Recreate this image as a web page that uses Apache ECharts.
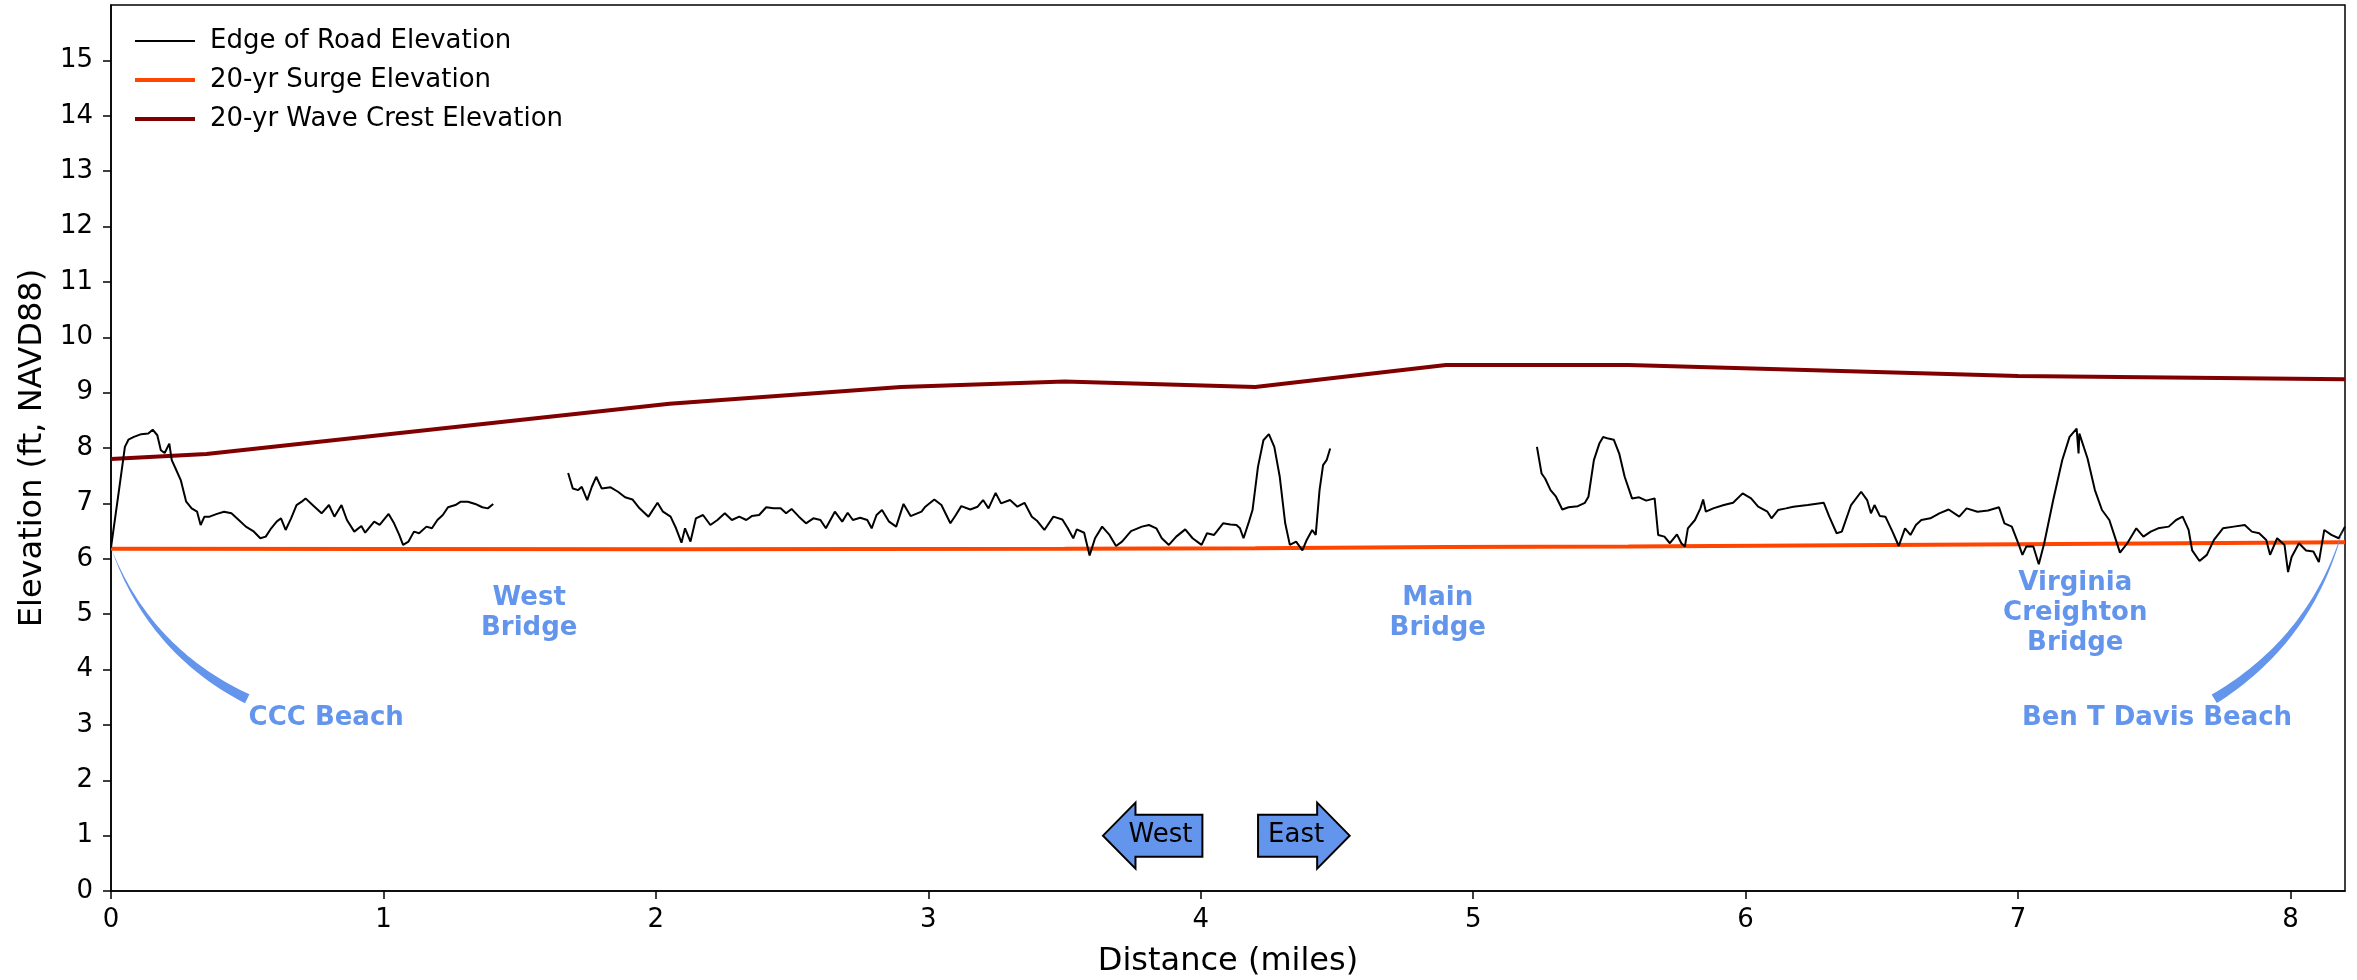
<!DOCTYPE html>
<html lang="en">
<head>
<meta charset="utf-8" />
<title>Edge of Road Elevation</title>
<script src="https://cdn.jsdelivr.net/npm/echarts@6/dist/echarts.min.js"></script>
<style>
  html, body { margin: 0; padding: 0; background: #fff; }
  #profile { width: 2357px; height: 980px; }
</style>
</head>
<body>
<div id="profile"></div>
<script>
// tick labels
const xTicks = [0, 1, 2, 3, 4, 5, 6, 7, 8];
const yTicks = [0, 1, 2, 3, 4, 5, 6, 7, 8, 9, 10, 11, 12, 13, 14, 15];

// edge of road elevation (null = no data, bridge gap)
const roadMiles = [
  0, 0.031, 0.051, 0.064, 0.084, 0.111, 0.137, 0.153, 0.170, 0.183, 0.197, 0.214, 0.223, 0.237, 0.256, 0.276,
  0.296, 0.316, 0.329, 0.343, 0.362, 0.389, 0.415, 0.442, 0.469, 0.495, 0.522, 0.548, 0.568, 0.588, 0.608, 0.624,
  0.641, 0.661, 0.681, 0.700, 0.714, 0.740, 0.773, 0.800, 0.820, 0.846, 0.866, 0.893, 0.919, 0.933, 0.966, 0.986,
  1.019, 1.039, 1.058, 1.072, 1.092, 1.112, 1.131, 1.158, 1.178, 1.198, 1.218, 1.237, 1.264, 1.284, 1.310, 1.337,
  1.363, 1.383, 1.403,
  1.54,
  1.678, 1.695, 1.715, 1.728, 1.748, 1.765, 1.781, 1.801, 1.834, 1.861, 1.887, 1.914, 1.940, 1.973, 2.006, 2.026,
  2.054, 2.074, 2.094, 2.107, 2.127, 2.147, 2.173, 2.200, 2.226, 2.253, 2.279, 2.306, 2.332, 2.352, 2.379, 2.405,
  2.432, 2.458, 2.478, 2.498, 2.525, 2.551, 2.578, 2.604, 2.624, 2.657, 2.684, 2.704, 2.723, 2.750, 2.776, 2.792,
  2.810, 2.830, 2.856, 2.882, 2.909, 2.935, 2.975, 2.989, 3.022, 3.048, 3.081, 3.101, 3.121, 3.154, 3.181, 3.201,
  3.221, 3.247, 3.267, 3.300, 3.327, 3.353, 3.380, 3.400, 3.426, 3.459, 3.492, 3.512, 3.532, 3.545, 3.572, 3.592,
  3.612, 3.638, 3.665, 3.689, 3.711, 3.744, 3.784, 3.810, 3.837, 3.857, 3.883, 3.910, 3.943, 3.970, 4.003, 4.023,
  4.049, 4.082, 4.109, 4.131, 4.144, 4.157, 4.177, 4.190, 4.210, 4.230, 4.250, 4.270, 4.290, 4.310, 4.327, 4.350,
  4.373, 4.389, 4.409, 4.422, 4.436, 4.449, 4.462, 4.475,
  4.85,
  5.234, 5.251, 5.264, 5.284, 5.304, 5.327, 5.350, 5.384, 5.410, 5.423, 5.443, 5.463, 5.477, 5.496, 5.516, 5.536,
  5.556, 5.583, 5.609, 5.635, 5.666, 5.679, 5.702, 5.722, 5.748, 5.764, 5.777, 5.788, 5.814, 5.834, 5.844, 5.854,
  5.881, 5.920, 5.954, 5.989, 6.020, 6.046, 6.080, 6.095, 6.119, 6.148, 6.175, 6.228, 6.287, 6.307, 6.334, 6.353,
  6.387, 6.424, 6.446, 6.460, 6.473, 6.493, 6.513, 6.539, 6.562, 6.585, 6.605, 6.625, 6.645, 6.678, 6.711, 6.745,
  6.784, 6.811, 6.851, 6.890, 6.930, 6.950, 6.977, 7.003, 7.016, 7.030, 7.056, 7.076, 7.096, 7.129, 7.162, 7.189,
  7.215, 7.222, 7.225, 7.255, 7.282, 7.308, 7.335, 7.355, 7.374, 7.401, 7.434, 7.460, 7.487, 7.514, 7.553, 7.580,
  7.604, 7.626, 7.639, 7.666, 7.693, 7.719, 7.752, 7.792, 7.832, 7.858, 7.885, 7.911, 7.925, 7.951, 7.978, 7.991,
  8.004, 8.031, 8.057, 8.084, 8.104, 8.124, 8.150, 8.177, 8.200
];
const roadElev = [
  6.20, 7.30, 8.02, 8.15, 8.20, 8.25, 8.26, 8.33, 8.23, 7.96, 7.91, 8.08, 7.78, 7.63, 7.42, 7.03,
  6.91, 6.85, 6.61, 6.76, 6.76, 6.81, 6.85, 6.82, 6.70, 6.58, 6.50, 6.37, 6.40, 6.55, 6.67, 6.73,
  6.52, 6.73, 6.97, 7.03, 7.09, 6.97, 6.82, 6.97, 6.76, 6.97, 6.70, 6.49, 6.59, 6.47, 6.67, 6.61,
  6.81, 6.64, 6.43, 6.25, 6.31, 6.49, 6.46, 6.58, 6.55, 6.70, 6.79, 6.93, 6.97, 7.03, 7.03, 6.99,
  6.93, 6.91, 6.99,
  null,
  7.55, 7.27, 7.24, 7.30, 7.06, 7.30, 7.48, 7.27, 7.29, 7.21, 7.11, 7.07, 6.91, 6.76, 7.01, 6.85,
  6.76, 6.55, 6.29, 6.55, 6.31, 6.73, 6.79, 6.61, 6.70, 6.82, 6.70, 6.76, 6.70, 6.77, 6.79, 6.93,
  6.91, 6.91, 6.82, 6.90, 6.76, 6.64, 6.73, 6.70, 6.55, 6.85, 6.67, 6.83, 6.70, 6.74, 6.70, 6.55,
  6.79, 6.88, 6.67, 6.58, 6.99, 6.77, 6.85, 6.94, 7.07, 6.97, 6.64, 6.79, 6.95, 6.89, 6.94, 7.06,
  6.91, 7.19, 7.00, 7.06, 6.94, 7.01, 6.76, 6.68, 6.52, 6.76, 6.71, 6.55, 6.37, 6.53, 6.47, 6.06,
  6.37, 6.58, 6.43, 6.23, 6.31, 6.50, 6.58, 6.61, 6.55, 6.37, 6.25, 6.40, 6.53, 6.37, 6.25, 6.46,
  6.43, 6.64, 6.62, 6.61, 6.55, 6.37, 6.67, 6.88, 7.66, 8.14, 8.25, 8.02, 7.48, 6.64, 6.25, 6.31,
  6.15, 6.34, 6.52, 6.43, 7.24, 7.69, 7.78, 7.99,
  null,
  8.02, 7.54, 7.45, 7.24, 7.12, 6.89, 6.93, 6.95, 7.01, 7.12, 7.78, 8.08, 8.20, 8.17, 8.15, 7.90,
  7.48, 7.09, 7.11, 7.05, 7.09, 6.43, 6.40, 6.28, 6.44, 6.28, 6.22, 6.55, 6.70, 6.91, 7.07, 6.85,
  6.91, 6.97, 7.01, 7.18, 7.09, 6.94, 6.85, 6.73, 6.88, 6.91, 6.94, 6.97, 7.01, 6.76, 6.46, 6.49,
  6.97, 7.21, 7.06, 6.82, 6.97, 6.77, 6.76, 6.49, 6.23, 6.55, 6.43, 6.61, 6.70, 6.73, 6.82, 6.89,
  6.76, 6.91, 6.85, 6.87, 6.93, 6.64, 6.58, 6.25, 6.07, 6.22, 6.22, 5.90, 6.28, 7.06, 7.78, 8.20,
  8.35, 7.90, 8.26, 7.81, 7.24, 6.88, 6.70, 6.40, 6.11, 6.28, 6.55, 6.40, 6.49, 6.55, 6.58, 6.70,
  6.76, 6.52, 6.15, 5.96, 6.07, 6.34, 6.55, 6.58, 6.61, 6.49, 6.46, 6.34, 6.07, 6.37, 6.25, 5.76,
  6.03, 6.28, 6.15, 6.13, 5.94, 6.52, 6.43, 6.37, 6.58
];

// 20-yr surge and wave crest elevations
const surgeMiles = [0, 2.05, 3.5, 4.2, 4.9, 5.57, 7.0, 8.2];
const surgeElev = [6.18, 6.17, 6.18, 6.19, 6.21, 6.22, 6.26, 6.30];
const waveMiles = [0, 0.35, 2.05, 2.9, 3.5, 4.2, 4.9, 5.57, 7.0, 8.2];
const waveElev = [7.80, 7.89, 8.80, 9.10, 9.20, 9.10, 9.50, 9.50, 9.30, 9.24];

// place names
const placeNames = ['CCC Beach', 'West\nBridge', 'Main\nBridge', 'Virginia\nCreighton\nBridge', 'Ben T Davis Beach'];
const placeMiles = [0.79, 1.535, 4.87, 7.21, 7.51];
const placeElev = [3.12, 5.02, 5.02, 5.02, 3.12];

// curved pointers from beach labels to road ends
const pointerFrom = [[0.50, 3.47], [7.72, 3.47]];
const pointerTo = [[0, 6.20], [8.195, 6.59]];
const pointerBend = [0.2, -0.2];

// direction arrows
const dirNames = ['West', 'East'];
const dirMiles = [3.852, 4.35];
const dirElev = [1.0, 1.0];
const dirSide = [-1, 1];

const FONT = '"DejaVu Sans", sans-serif';
const BLUE = '#6495ED';

const pairs = function(xs, ys) {
  return xs.map(function(x, i) { return [x, ys[i] === null ? '-' : ys[i]]; });
};

// text width helper for the arrow boxes
const measureCtx = document.createElement('canvas').getContext('2d');
const textWidth = function(txt, font) {
  measureCtx.font = font;
  return measureCtx.measureText(txt).width;
};

// wedge shaped curved pointer (wide at label, thin at road)
const pointerItem = function(params, api) {
  const s = api.coord([api.value(0), api.value(1)]);
  const e = api.coord([api.value(2), api.value(3)]);
  const rad = api.value(4);
  const dx = e[0] - s[0], dy = e[1] - s[1];
  const c = [(s[0] + e[0]) / 2 + rad * dy, (s[1] + e[1]) / 2 - rad * dx];
  const n = 40, tail = 10;
  const left = [], right = [];
  for (let i = 0; i <= n; i++) {
    const t = i / n, u = 1 - t;
    const x = u * u * s[0] + 2 * u * t * c[0] + t * t * e[0];
    const y = u * u * s[1] + 2 * u * t * c[1] + t * t * e[1];
    const tx = 2 * u * (c[0] - s[0]) + 2 * t * (e[0] - c[0]);
    const ty = 2 * u * (c[1] - s[1]) + 2 * t * (e[1] - c[1]);
    const len = Math.hypot(tx, ty) || 1;
    const w = tail * u / 2;
    left.push([x - ty / len * w, y + tx / len * w]);
    right.push([x + ty / len * w, y - tx / len * w]);
  }
  return {
    type: 'polygon',
    shape: { points: left.concat(right.reverse()) },
    style: { fill: BLUE }
  };
};

const placeItem = function(params, api) {
  const p = api.coord([api.value(0), api.value(1)]);
  return {
    type: 'text',
    x: p[0],
    y: p[1],
    style: {
      text: placeNames[params.dataIndex],
      fill: BLUE,
      font: 'bold 26px ' + FONT,
      align: 'center',
      verticalAlign: 'middle',
      lineHeight: 30
    }
  };
};

// arrow shaped box around West / East
const dirItem = function(params, api) {
  const p = api.coord([api.value(0), api.value(1)]);
  const label = dirNames[params.dataIndex];
  const side = dirSide[params.dataIndex];
  const font = '26px ' + FONT;
  const hw = textWidth(label, font) / 2;
  const bodyH = 21, headH = 33;
  const pts = [
    [-(hw + 10), -bodyH], [hw - 7, -bodyH], [hw - 7, -headH], [hw + 25.5, 0],
    [hw - 7, headH], [hw - 7, bodyH], [-(hw + 10), bodyH]
  ].map(function(q) { return [p[0] + side * q[0], p[1] + q[1]]; });
  return {
    type: 'group',
    children: [{
      type: 'polygon',
      shape: { points: pts },
      style: { fill: BLUE, stroke: '#000', lineWidth: 2 }
    }, {
      type: 'text',
      x: p[0],
      y: p[1],
      style: { text: label, fill: '#000', font: font, align: 'center', verticalAlign: 'middle' }
    }]
  };
};

const chart = echarts.init(document.getElementById('profile'));

chart.setOption({
  animation: false,
  backgroundColor: '#fff',
  grid: {
    left: 111, right: 12, top: 5, bottom: 89,
    show: true, borderColor: '#000', borderWidth: 1.5,
    outerBoundsMode: 'none'
  },
  legend: {
    data: ['Edge of Road Elevation', '20-yr Surge Elevation', '20-yr Wave Crest Elevation'],
    orient: 'vertical',
    left: 128,
    top: 21,
    itemWidth: 60,
    itemHeight: 14,
    itemGap: 9,
    itemStyle: { opacity: 0, color: 'rgba(0,0,0,0)', borderWidth: 0 },
    lineStyle: { width: 'inherit' },
    textStyle: { fontFamily: FONT, fontSize: 26, color: '#000', lineHeight: 30, padding: [0, 0, 0, 10] }
  },
  xAxis: {
    type: 'value',
    min: 0,
    max: 8.2,
    name: 'Distance (miles)',
    nameLocation: 'middle',
    nameGap: 55,
    nameTextStyle: { fontFamily: FONT, fontSize: 32, color: '#000' },
    axisLine: { lineStyle: { color: '#000', width: 1.5 } },
    axisTick: { show: true, inside: false, length: 8, customValues: xTicks, lineStyle: { color: '#000', width: 1.5 } },
    axisLabel: { customValues: xTicks, margin: 16, fontFamily: FONT, fontSize: 26, color: '#000' },
    splitLine: { show: false }
  },
  yAxis: {
    type: 'value',
    min: 0,
    max: 16,
    name: 'Elevation (ft, NAVD88)',
    nameLocation: 'middle',
    nameGap: 62,
    nameTextStyle: { fontFamily: FONT, fontSize: 32, color: '#000' },
    axisLine: { lineStyle: { color: '#000', width: 1.5 } },
    axisTick: { show: true, inside: false, length: 8, customValues: yTicks, lineStyle: { color: '#000', width: 1.5 } },
    axisLabel: { customValues: yTicks, margin: 18, fontFamily: FONT, fontSize: 26, color: '#000' },
    splitLine: { show: false }
  },
  series: [{
    name: '20-yr Surge Elevation',
    type: 'line',
    symbol: 'none',
    lineStyle: { color: '#FF4500', width: 4 },
    itemStyle: { color: '#FF4500' },
    data: pairs(surgeMiles, surgeElev),
    z: 3
  }, {
    name: '20-yr Wave Crest Elevation',
    type: 'line',
    symbol: 'none',
    lineStyle: { color: '#800000', width: 4 },
    itemStyle: { color: '#800000' },
    data: pairs(waveMiles, waveElev),
    z: 3
  }, {
    name: 'Edge of Road Elevation',
    type: 'line',
    symbol: 'none',
    connectNulls: false,
    lineStyle: { color: '#000', width: 2 },
    itemStyle: { color: '#000' },
    data: pairs(roadMiles, roadElev),
    z: 4
  }, {
    name: 'pointers',
    type: 'custom',
    renderItem: pointerItem,
    data: pointerFrom.map(function(f, i) { return [f[0], f[1], pointerTo[i][0], pointerTo[i][1], pointerBend[i]]; }),
    silent: true,
    z: 5
  }, {
    name: 'places',
    type: 'custom',
    renderItem: placeItem,
    data: placeMiles.map(function(m, i) { return [m, placeElev[i]]; }),
    silent: true,
    z: 5
  }, {
    name: 'directions',
    type: 'custom',
    renderItem: dirItem,
    data: dirMiles.map(function(m, i) { return [m, dirElev[i]]; }),
    silent: true,
    z: 5
  }]
});
</script>
</body>
</html>
